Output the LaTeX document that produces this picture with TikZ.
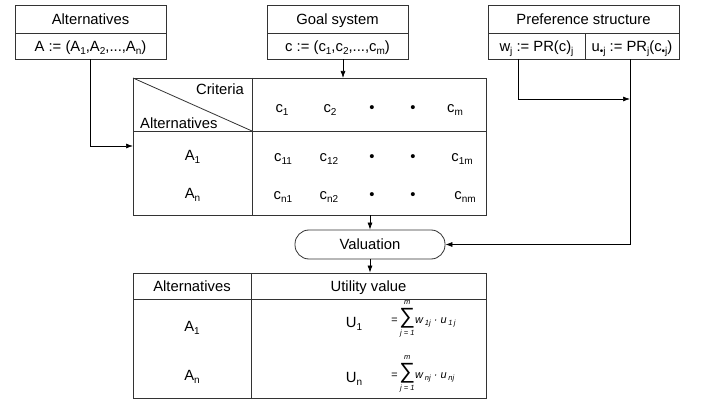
\documentclass[tikz,border=0pt]{standalone}
\usepackage{fontspec}
\setmainfont{Liberation Sans}
\usetikzlibrary{arrows.meta}
\newcommand\subx[1]{\raisebox{-0.45ex}{\fontsize{10}{10}\selectfont #1}}
\newcommand\subf[1]{\raisebox{-0.35ex}{\fontsize{7.5}{8}\selectfont #1}}
\newcommand\frm[2]{\fontsize{11}{11}\selectfont\itshape =\,$\mathop{\hbox{\upshape\fontsize{22}{22}\selectfont ∑}}\limits^{\raisebox{2pt}{\fontsize{7.5}{8}\selectfont\itshape m}}_{\raisebox{-1pt}{\fontsize{7.5}{8}\selectfont\itshape j = 1}}$w\,\subf{#1}\;·\;u\,\subf{#2}}
\begin{document}
\begin{tikzpicture}[x=1pt,y=-1pt,
  box/.style={draw=black!80,line width=0.8pt,rectangle,inner sep=0pt,text height=10.4pt,text depth=0pt,font=\fontsize{14.8}{17}\selectfont},
  txt/.style={inner sep=0pt,text height=10.4pt,text depth=0pt,font=\fontsize{14.8}{17}\selectfont},
  tline/.style={draw=black!80,line width=0.8pt},
  arr/.style={draw=black,line width=0.7pt,-{Latex[length=7pt,width=5pt]}}]
\useasboundingbox[fill=white] (0,0) rectangle (702,401);
% top boxes
\node[box,minimum width=151pt,minimum height=28pt] (altT) at (90.5,19) {Alternatives};
\node[box,minimum width=151pt,minimum height=26pt] (altB) at (90.5,46) {A := (A\subx{1},A\subx{2},...,A\subx{n})};
\node[box,minimum width=141pt,minimum height=28pt] (goalT) at (337.5,19) {Goal system};
\node[box,minimum width=141pt,minimum height=26pt] (goalB) at (337.5,46) {c := (c\subx{1},c\subx{2},...,c\subx{m})};
\node[box,minimum width=191pt,minimum height=28pt] (prefT) at (583.5,19) {Preference structure};
\node[box,minimum width=97pt,minimum height=26pt] (prefA) at (536.5,46) {w\subx{j} := PR(c)\subx{j}};
\node[box,minimum width=94pt,minimum height=26pt] (prefB) at (632,46) {u\subx{•j} := PR\subx{j}(c\subx{•j})};
% main table
\node[box,minimum width=353pt,minimum height=137pt] (mt) at (309.5,146.5) {};
\draw[tline] (133,131) -- (486,131);
\draw[tline] (252,78) -- (252,215);
\draw[tline] (133,78) -- (252,131);
\node[txt,anchor=east] (crit) at (244,89) {Criteria};
\node[txt,anchor=west] (altH) at (140,123) {Alternatives};
\node[txt] (c1) at (282,107) {c\subx{1}};
\node[txt] (c2) at (330,107) {c\subx{2}};
\node[txt] (d1) at (372,107) {•};
\node[txt] (d2) at (413,107) {•};
\node[txt] (cm) at (455,107) {c\subx{m}};
\node[txt] (a1) at (192.5,155) {A\subx{1}};
\node[txt] (an) at (192.5,193) {A\subx{n}};
\node[txt] (c11) at (283,156) {c\subx{11}};
\node[txt] (c12) at (329,156) {c\subx{12}};
\node[txt] (d3) at (372,156) {•};
\node[txt] (d4) at (413,156) {•};
\node[txt] (c1m) at (462,156) {c\subx{1m}};
\node[txt] (cn1) at (283,194) {c\subx{n1}};
\node[txt] (cn2) at (329,194) {c\subx{n2}};
\node[txt] (d5) at (372,194) {•};
\node[txt] (d6) at (413,194) {•};
\node[txt] (cnm) at (465,194) {c\subx{nm}};
% valuation
\node[box,rounded corners=14pt,minimum width=150pt,minimum height=29pt] (val) at (370,244.5) {Valuation};
% lower table
\node[box,minimum width=353pt,minimum height=125pt] (lt) at (309.5,335.5) {};
\draw[tline] (133,299) -- (486,299);
\draw[tline] (251,273) -- (251,398);
\node[txt] (ltA) at (192,286) {Alternatives};
\node[txt] (ltU) at (368.5,286) {Utility value};
\node[txt] (la1) at (192,326) {A\subx{1}};
\node[txt] (lan) at (192,375) {A\subx{n}};
\node[txt] (u1) at (354,322) {U\subx{1}};
\node[txt] (un) at (354,377) {U\subx{n}};
\node[inner sep=0pt,anchor=west] (f1) at (391,319) {\frm{1j}{1\,j}};
\node[inner sep=0pt,anchor=west] (fn) at (391,374) {\frm{nj}{nj}};
% connectors
\coordinate (ain) at (133,146);
\coordinate (gin) at (343,78);
\coordinate (pa) at (518,59);
\coordinate (pj) at (630,99);
\draw[arr] (altB.south) |- (ain);
\draw[arr] (goalB.south -| gin) -- (gin);
\draw[arr] (pa) |- (pj);
\draw[arr] (prefB.south -| pj) |- (val.east);
\draw[arr] (mt.south -| val.north) -- (val.north);
\draw[arr] (val.south) -- (lt.north -| val.south);
\end{tikzpicture}
\end{document}
